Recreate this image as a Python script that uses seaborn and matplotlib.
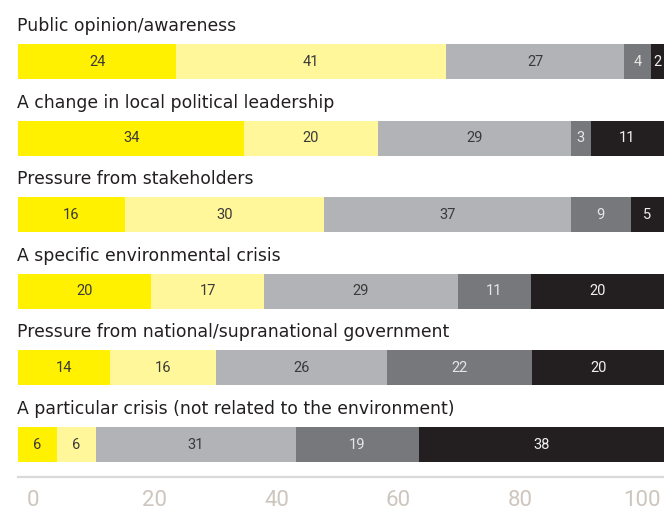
import numpy as np
import pandas as pd
import matplotlib
matplotlib.use("Agg")
import matplotlib.pyplot as plt
import seaborn as sns

# Drivers of action, share of respondents per answer level
causes = [
    "Public opinion/awareness",
    "A change in local political leadership",
    "Pressure from stakeholders",
    "A specific environmental crisis",
    "Pressure from national/supranational government",
    "A particular crisis (not related to the environment)",
]
level_1 = [24, 34, 16, 20, 14, 6]
level_2 = [41, 20, 30, 17, 16, 6]
level_3 = [27, 29, 37, 29, 26, 31]
level_4 = [4, 3, 9, 11, 22, 19]
level_5 = [2, 11, 5, 20, 20, 38]
axis_ticks = [0, 20, 40, 60, 80, 100]

levels = [level_1, level_2, level_3, level_4, level_5]
colors = ["#FFF100", "#FFF799", "#B1B3B6", "#77787B", "#231F20"]
label_colors = ["#3A3A3A", "#3A3A3A", "#3A3A3A", "#E6E6E6", "#F0F0F0"]

sns.set_theme(style="white")
plt.rcParams["font.family"] = ["DejaVu Sans"]

W, H = 664, 512
fig = plt.figure(figsize=(W / 100, H / 100), dpi=100)

vals = np.array(levels, dtype=float).T          # rows = causes, cols = levels
shares = vals / vals.sum(axis=1, keepdims=True) * 100
cum = np.cumsum(shares, axis=1)

df = pd.DataFrame(cum, columns=[f"c{i}" for i in range(5)])
df["cause"] = causes

# bar area: left edge at x=18 px, bottom rule at y=477 px
ax = fig.add_axes([18 / W, (H - 477) / H, (W - 18) / W, 477 / H])
bar_h = 0.457
for i in reversed(range(5)):
    sns.barplot(data=df, x=f"c{i}", y="cause", orient="h", color=colors[i],
                saturation=1, width=bar_h, linewidth=0, ax=ax)

ax.set_xlim(0, 100)
ax.set_ylim(5.424, -0.803)
ax.set_xlabel("")
ax.set_ylabel("")
ax.set_xticks([])
ax.set_yticks([])
for s in ["top", "left", "right"]:
    ax.spines[s].set_visible(False)
ax.spines["bottom"].set_color("#D9D9D9")
ax.spines["bottom"].set_linewidth(1.6)

num_font = ["Roboto", "DejaVu Sans"]

# segment values and row titles
for r in range(len(causes)):
    ax.text(-0.1, r - 0.398, causes[r], ha="left", va="baseline",
            fontsize=12.4, color="#231F20")
    for i in range(5):
        mid = cum[r, i] - shares[r, i] / 2
        ax.text(mid, r, str(levels[i][r]), ha="center", va="center",
                fontsize=10.5, color=label_colors[i], family=num_font)

# percentage scale below the bars
ax2 = fig.add_axes([33 / W, (H - 490) / H, (642 - 33) / W, 0.0001])
ax2.set_xlim(0, 100)
ax2.set_xticks(axis_ticks)
ax2.set_xticklabels([str(t) for t in axis_ticks])
ax2.set_yticks([])
ax2.tick_params(axis="x", length=0, pad=0, labelsize=16, labelcolor="#CDC6BF")
for lab in ax2.get_xticklabels():
    lab.set_family(num_font)
for s in ax2.spines.values():
    s.set_visible(False)
ax2.patch.set_alpha(0)

fig.savefig("out.png", dpi=100)
